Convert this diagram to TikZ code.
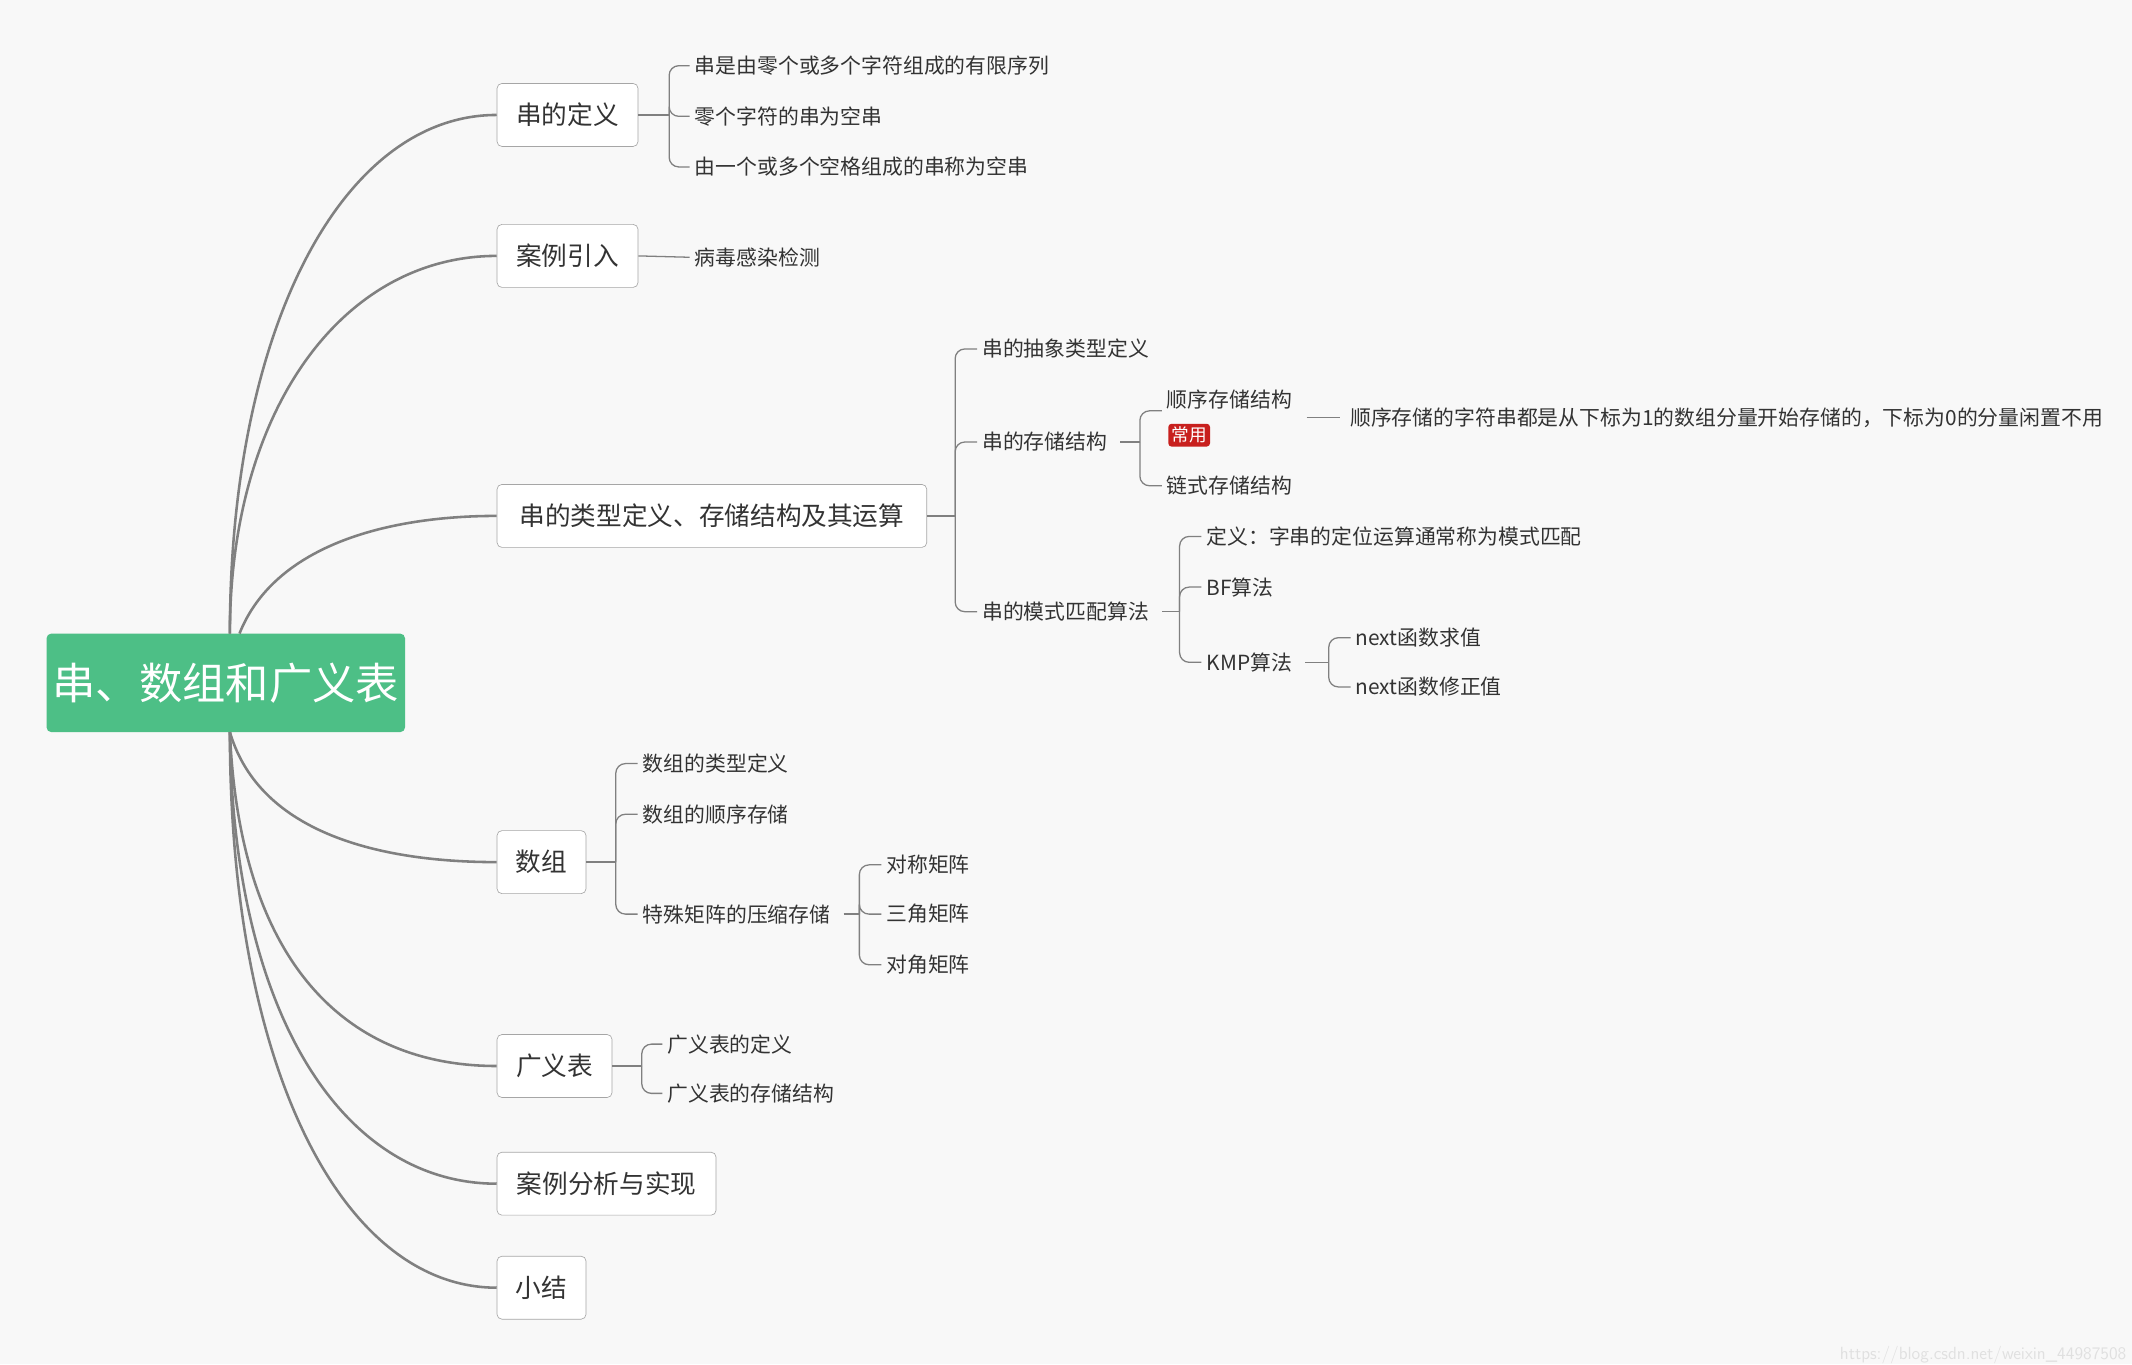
\documentclass[tikz,border=0pt]{standalone}
\usepackage{fontspec}
\setmainfont{Noto Sans CJK SC}
\definecolor{bg}{HTML}{F8F8F8}
\definecolor{ln}{HTML}{808080}
\definecolor{tx}{HTML}{333333}
\definecolor{rootg}{HTML}{4DBF86}
\definecolor{tagr}{HTML}{C8201E}
\tikzset{
 rootbox/.style={fill=rootg,text=white,rounded corners=3pt,minimum width=7.86cm,minimum height=2.16cm,font=\fontsize{27}{30}\selectfont},
 l1box/.style={draw=ln!70,fill=white,rounded corners=3pt,minimum height=1.38cm,anchor=west,text=tx,font=\fontsize{16}{18}\selectfont,inner xsep=0pt},
 leaf/.style={anchor=west,inner xsep=3pt,inner ysep=1pt,text=tx,font=\fontsize{13}{15}\selectfont},
 main/.style={draw=ln,line width=1.6pt},
 sub/.style={draw=ln,line width=0.8pt},
 br/.style={draw=ln,line width=0.8pt,rounded corners=6pt},
}
\begin{document}
\begin{tikzpicture}[x=0.03cm,y=-0.03cm]
\fill[bg] (0,0) rectangle (1558,997);
\useasboundingbox (0,0) rectangle (1558,997);
\node[rootbox] (root) at (165,499) {串、数组和广义表};
% level 1
\node[l1box,minimum width=3.09cm] (a) at (363,84) {串的定义};
\node[l1box,minimum width=3.09cm] (b) at (363,187) {案例引入};
\node[l1box,minimum width=9.42cm] (c) at (363,377) {串的类型定义、存储结构及其运算};
\node[l1box,minimum width=1.95cm] (d) at (363,630) {数组};
\node[l1box,minimum width=2.52cm] (e) at (363,779) {广义表};
\node[l1box,minimum width=4.8cm] (f) at (363,865) {案例分析与实现};
\node[l1box,minimum width=1.95cm] (g) at (363,941) {小结};
% main curves
\coordinate (rt) at (168,463);
\coordinate (rt2) at (175,463);
\coordinate (rb) at (168,535);
\draw[main] (rt) .. controls (168,240) and (250,84) .. (a.west);
\draw[main] (rt) .. controls (168,300) and (250,187) .. (b.west);
\draw[main] (rt2) .. controls (200,400) and (280,377) .. (c.west);
\draw[main] (rb) .. controls (190,610) and (280,630) .. (d.west);
\draw[main] (rb) .. controls (175,700) and (250,779) .. (e.west);
\draw[main] (rb) .. controls (170,740) and (250,865) .. (f.west);
\draw[main] (rb) .. controls (168,780) and (250,941) .. (g.west);
% a children
\node[leaf] (a1) at (504,48) {串是由零个或多个字符组成的有限序列};
\node[leaf] (a2) at (504,85) {零个字符的串为空串};
\node[leaf] (a3) at (504,122) {由一个或多个空格组成的串称为空串};
\coordinate (ja) at (489,84);
\draw[sub] (a.east) -- (ja);
\foreach \n in {a1,a2,a3} \draw[br] (ja) |- (\n.west);
% b
\node[leaf] (b1) at (504,188) {病毒感染检测};
\draw[sub] (b.east) -- (b1.west);
% c
\node[leaf] (c1) at (714,255) {串的抽象类型定义};
\node[leaf] (c2) at (714,323) {串的存储结构};
\node[leaf] (c3) at (714,447) {串的模式匹配算法};
\coordinate (jc) at (698,377);
\draw[sub] (c.east) -- (jc);
\foreach \n in {c1,c2,c3} \draw[br] (jc) |- (\n.west);
% c2 children
\node[leaf] (s1) at (849,292) {顺序存储结构};
\node[fill=tagr,text=white,rounded corners=2pt,inner sep=2pt,font=\fontsize{11}{12}\selectfont] (tag) at (869,318) {常用};
\node[leaf] (s2) at (849,355) {链式存储结构};
\node[leaf] (s1a) at (983,305) {顺序存储的字符串都是从下标为1的数组分量开始存储的，下标为0的分量闲置不用};
\coordinate (js) at (833,323);
\draw[sub] ([xshift=5pt]c2.east) -- (js);
\draw[br] (js) |- ([yshift=-7pt]s1.west);
\draw[br] (js) |- (s2.west);
\draw[sub] ([xshift=6pt]s1.east |- s1a.west) -- ([xshift=-3pt]s1a.west);
% c3 children
\node[leaf] (m1) at (878,392) {定义：字串的定位运算通常称为模式匹配};
\node[leaf] (m2) at (878,429) {BF算法};
\node[leaf] (m3) at (878,484) {KMP算法};
\coordinate (jm) at (862,447);
\draw[sub] ([xshift=5pt]c3.east) -- (jm);
\foreach \n in {m1,m2,m3} \draw[br] (jm) |- (\n.west);
\node[leaf] (k1) at (987,466) {next函数求值};
\node[leaf] (k2) at (987,502) {next函数修正值};
\coordinate (jk) at (971,484);
\draw[sub] ([xshift=5pt]m3.east) -- (jk);
\foreach \n in {k1,k2} \draw[br] (jk) |- (\n.west);
% d
\node[leaf] (d1) at (466,558) {数组的类型定义};
\node[leaf] (d2) at (466,595) {数组的顺序存储};
\node[leaf] (d3) at (466,668) {特殊矩阵的压缩存储};
\coordinate (jd) at (450,630);
\draw[sub] (d.east) -- (jd);
\foreach \n in {d1,d2,d3} \draw[br] (jd) |- (\n.west);
\node[leaf] (x1) at (644,632) {对称矩阵};
\node[leaf] (x2) at (644,668) {三角矩阵};
\node[leaf] (x3) at (644,705) {对角矩阵};
\coordinate (jx) at (628,668);
\draw[sub] ([xshift=5pt]d3.east) -- (jx);
\foreach \n in {x1,x2,x3} \draw[br] (jx) |- (\n.west);
% e
\node[leaf] (e1) at (484,763) {广义表的定义};
\node[leaf] (e2) at (484,799) {广义表的存储结构};
\coordinate (je) at (469,779);
\draw[sub] (e.east) -- (je);
\foreach \n in {e1,e2} \draw[br] (je) |- (\n.west);
% watermark
\node[anchor=east,text=black!12,font=\fontsize{11}{12}\selectfont\sffamily] (wm) at (1558,990) {https://blog.csdn.net/weixin\_44987508};
\end{tikzpicture}
\end{document}
